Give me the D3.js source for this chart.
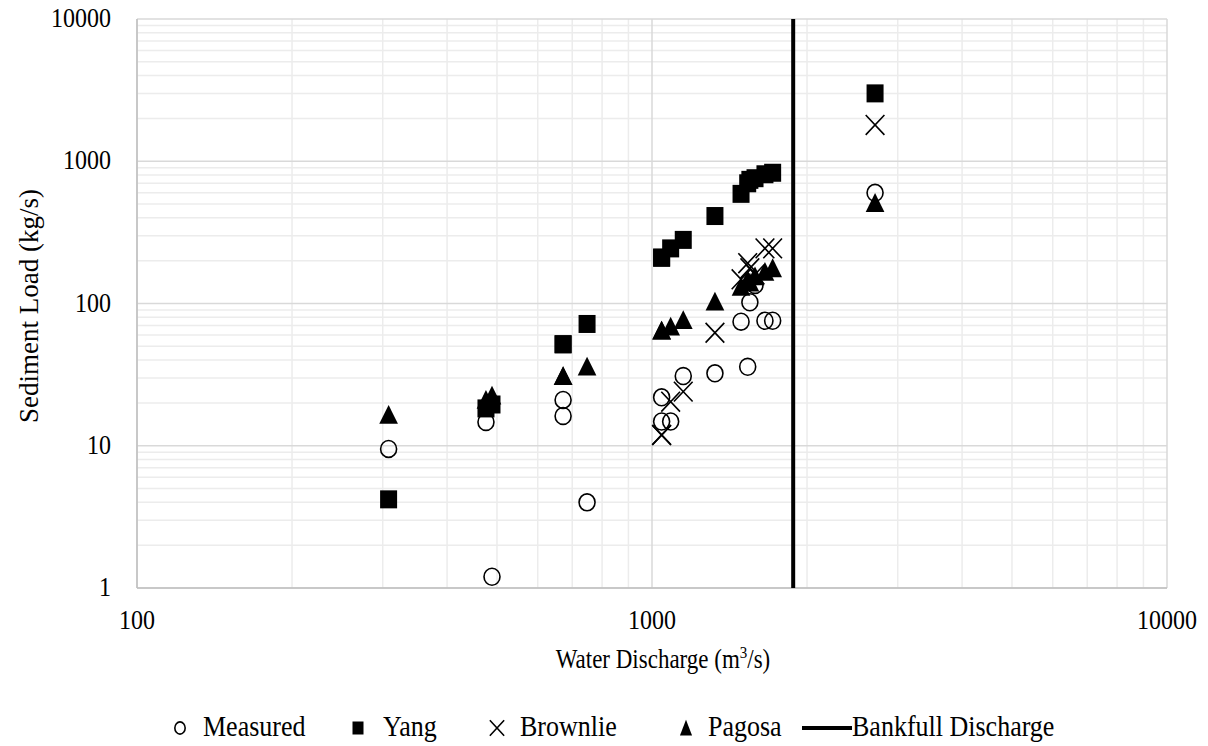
<!DOCTYPE html>
<html>
<head>
<meta charset="utf-8">
<script src="https://cdn.jsdelivr.net/npm/d3@7"></script>
<style>
  body { margin: 0; background: #fff; }
  svg text { font-family: "Liberation Serif", "Times New Roman", "DejaVu Serif", serif; fill: #000; }
</style>
</head>
<body>
<svg id="chart" width="1208" height="746"></svg>
<script>
// water discharge (m3/s) for each sample
const discharge = [308, 476, 489, 672, 672, 748, 1044, 1044, 1087, 1150, 1325, 1489, 1534, 1549, 1585, 1657, 1715, 2711];
// sediment load (kg/s) for each series
const measured = [9.5, 14.7, 1.2, 21, 16.2, 4.0, 21.9, 14.8, 14.8, 30.9, 32.3, 74.5, 35.9, 102, 135, 75.6, 75.6, 600];
const yang     = [4.2, 18.3, 19.5, 51.7, 51.7, 71.8, 210, 210, 244, 280, 412, 590, 700, 740, 760, 810, 830, 3000];
const brownlie = [null, null, null, null, null, null, 11.9, 11.9, 20.4, 24, 62.3, 148, 192, 177, 160, 244, 244, 1800];
const pagosa   = [16.5, 21, 22.5, 30.9, 30.9, 36, 64.4, 64.4, 68.7, 76.5, 103, 131, 146, 140, 155, 167, 177, 509];
const bankfull = 1880;

const xTicks = [100, 1000, 10000];
const yTicks = [1, 10, 100, 1000, 10000];

const svg = d3.select('#chart');
const plotL = 137, plotR = 1167, plotT = 19, plotB = 588;
const serif = '"Liberation Serif", "Times New Roman", serif';

const x = d3.scaleLog().domain([100, 10000]).range([plotL, plotR]);
const y = d3.scaleLog().domain([1, 10000]).range([plotB, plotT]);

// minor grid lines
const minors = [];
[1, 10, 100, 1000].forEach(d => { for (let k = 2; k <= 9; k++) minors.push(d * k); });
const xMinor = minors.filter(v => v > 100 && v < 10000);
svg.append('g').selectAll('line').data(xMinor).join('line')
  .attr('x1', d => x(d)).attr('x2', d => x(d)).attr('y1', plotT).attr('y2', plotB)
  .attr('stroke', '#ececec').attr('stroke-width', 1.5);
svg.append('g').selectAll('line').data(minors).join('line')
  .attr('x1', plotL).attr('x2', plotR).attr('y1', d => y(d)).attr('y2', d => y(d))
  .attr('stroke', '#ececec').attr('stroke-width', 1.5);

// major grid lines
svg.append('g').selectAll('line').data(xTicks).join('line')
  .attr('x1', d => x(d)).attr('x2', d => x(d)).attr('y1', plotT).attr('y2', plotB)
  .attr('stroke', '#d9d9d9').attr('stroke-width', 1.5);
svg.append('g').selectAll('line').data(yTicks).join('line')
  .attr('x1', plotL).attr('x2', plotR).attr('y1', d => y(d)).attr('y2', d => y(d))
  .attr('stroke', '#d9d9d9').attr('stroke-width', 1.5);

// axis lines
svg.append('line').attr('x1', plotL).attr('x2', plotL).attr('y1', plotT).attr('y2', plotB)
  .attr('stroke', '#bfbfbf').attr('stroke-width', 1.5);
svg.append('line').attr('x1', plotL).attr('x2', plotR).attr('y1', plotB).attr('y2', plotB)
  .attr('stroke', '#bfbfbf').attr('stroke-width', 1.5);

// tick labels (source image is slightly stretched vertically)
svg.append('g').selectAll('text').data(yTicks).join('text')
  .attr('transform', d => `translate(111,${y(d) + 8}) scale(1,1.15)`)
  .attr('text-anchor', 'end').attr('font-size', 24).attr('font-family', serif)
  .text(d => d);
svg.append('g').selectAll('text').data(xTicks).join('text')
  .attr('transform', d => `translate(${x(d)},629) scale(1,1.15)`)
  .attr('text-anchor', 'middle').attr('font-size', 24).attr('font-family', serif)
  .text(d => d);

// axis titles
const xt = svg.append('text').attr('transform', `translate(${x(1000) + 11},668) scale(1,1.15)`)
  .attr('text-anchor', 'middle').attr('font-size', 23).attr('font-family', serif);
xt.append('tspan').text('Water Discharge (m');
xt.append('tspan').attr('font-size', 15).attr('dy', -9).text('3');
xt.append('tspan').attr('dy', 9).text('/s)');

svg.append('text')
  .attr('transform', `translate(38,306) rotate(-90)`)
  .attr('text-anchor', 'middle').attr('font-size', 27).attr('font-family', serif)
  .text('Sediment Load (kg/s)');

// bankfull discharge line
svg.append('line')
  .attr('x1', x(bankfull)).attr('x2', x(bankfull))
  .attr('y1', y(10000)).attr('y2', y(1))
  .attr('stroke', '#000').attr('stroke-width', 4);

// marker shapes
function drawMarker(g, type, cx, cy, w, h) {
  h = h || w;
  if (type === 'circle') {
    g.append('ellipse').attr('cx', cx).attr('cy', cy).attr('rx', w * 0.47).attr('ry', h * 0.47)
      .attr('fill', 'none').attr('stroke', '#000').attr('stroke-width', 1.6);
  } else if (type === 'square') {
    g.append('rect').attr('x', cx - w / 2).attr('y', cy - h / 2)
      .attr('width', w).attr('height', h).attr('fill', '#000');
  } else if (type === 'cross') {
    const a = w * 0.55, b = h * 0.55;
    g.append('path')
      .attr('d', `M${cx - a},${cy - b}L${cx + a},${cy + b}M${cx - a},${cy + b}L${cx + a},${cy - b}`)
      .attr('stroke', '#000').attr('stroke-width', 1.6).attr('fill', 'none');
  } else if (type === 'triangle') {
    const a = w * 0.55, b = h * 0.55;
    g.append('path')
      .attr('d', `M${cx},${cy - b}L${cx + a},${cy + b * 0.9}L${cx - a},${cy + b * 0.9}Z`)
      .attr('fill', '#000');
  }
}

const series = [
  { name: 'Measured', values: measured, type: 'circle' },
  { name: 'Yang', values: yang, type: 'square' },
  { name: 'Brownlie', values: brownlie, type: 'cross' },
  { name: 'Pagosa', values: pagosa, type: 'triangle' }
];

series.forEach(s => {
  const g = svg.append('g');
  s.values.forEach((v, i) => {
    if (v == null) return;
    drawMarker(g, s.type, x(discharge[i]), y(v), 17, 18);
  });
});

// legend
const legendY = 728;
const legendItems = [
  { type: 'circle', mx: 180, tx: 203, label: 'Measured', w: 11, h: 13 },
  { type: 'square', mx: 358, tx: 383, label: 'Yang', w: 11, h: 13 },
  { type: 'cross', mx: 497, tx: 520, label: 'Brownlie', w: 13, h: 14 },
  { type: 'triangle', mx: 686, tx: 708, label: 'Pagosa', w: 11, h: 15 }
];
const lg = svg.append('g');
legendItems.forEach(d => {
  drawMarker(lg, d.type, d.mx, legendY, d.w, d.h);
  lg.append('text').attr('transform', `translate(${d.tx},${legendY + 8}) scale(1,1.1)`)
    .attr('font-size', 26).attr('font-family', serif).text(d.label);
});
lg.append('line').attr('x1', 802).attr('x2', 852).attr('y1', legendY).attr('y2', legendY)
  .attr('stroke', '#000').attr('stroke-width', 4);
lg.append('text').attr('transform', `translate(852,${legendY + 8}) scale(1,1.1)`)
  .attr('font-size', 26).attr('font-family', serif).text('Bankfull Discharge');
</script>
</body>
</html>
